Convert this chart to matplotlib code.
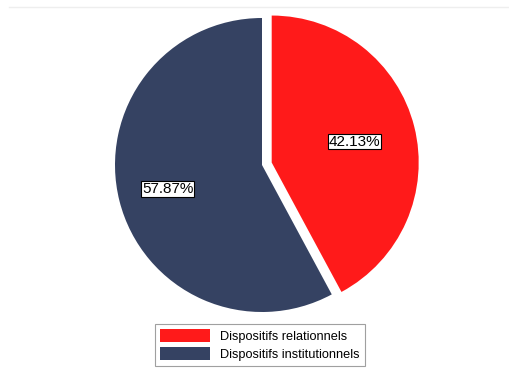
import numpy as np
import matplotlib
matplotlib.use('Agg')
import matplotlib.pyplot as plt
from matplotlib.lines import Line2D

# data
labels = ['Dispositifs relationnels', 'Dispositifs institutionnels']
shares = [42.13, 57.87]
colors = ['#FF1A1A', '#354262']
explode = [10, 0]  # in pixels (axes data units)
label_dist = [0.58, 0.66]

plt.rcParams['font.family'] = ['Liberation Sans', 'DejaVu Sans']

fig = plt.figure(figsize=(5.10, 3.69), dpi=100)
ax = fig.add_axes([0, 0, 1, 1])

# faint line at top
fig.add_artist(Line2D([9 / 510, 1], [1 - 7 / 369, 1 - 7 / 369],
                      color='#EEEEEE', lw=1))

cx, cy, r = 262, 204, 147
wedges, texts, autotexts = ax.pie(
    shares, colors=colors, explode=explode, startangle=90, counterclock=False,
    center=(cx, cy), radius=r, autopct='%.2f%%', pctdistance=0.6,
    wedgeprops=dict(linewidth=0), frame=True)
ax.set_xlim(0, 510)
ax.set_ylim(0, 369)
ax.set_aspect('equal')
ax.axis('off')

for w, t, d in zip(wedges, autotexts, label_dist):
    ang = np.deg2rad((w.theta1 + w.theta2) / 2)
    wx, wy = w.center
    t.set_position((wx + d * r * np.cos(ang), wy + d * r * np.sin(ang)))
    t.set_fontsize(11)
    t.set_color('black')
    t.set_bbox(dict(facecolor='white', edgecolor='black', linewidth=0.8, pad=0.5))

leg = ax.legend(wedges, labels, loc='lower center', bbox_to_anchor=(260 / 510, 3 / 369),
                bbox_transform=fig.transFigure, fontsize=9.2, frameon=True, fancybox=False,
                handlelength=3.9, handleheight=1.15, labelspacing=0.35,
                borderpad=0.4, handletextpad=0.8, borderaxespad=0)
leg.get_frame().set_edgecolor('#888888')
leg.get_frame().set_linewidth(0.8)

plt.savefig('out.png', dpi=100)
